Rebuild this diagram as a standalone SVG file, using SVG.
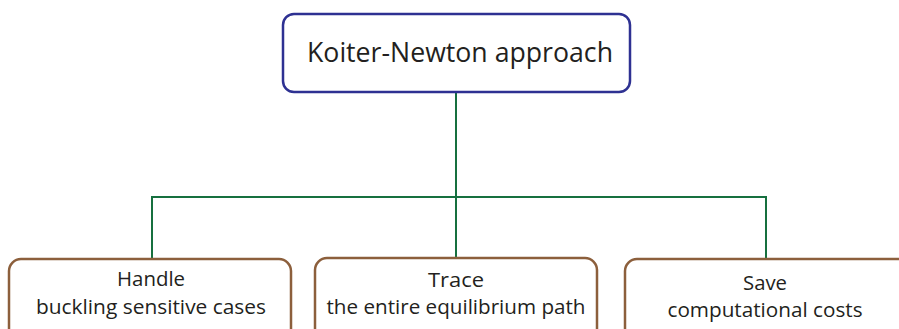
<svg xmlns="http://www.w3.org/2000/svg" width="899" height="329" viewBox="0 0 899 329">
<style>
.top{fill:#fff;stroke:#2e3192;stroke-width:2.5}
.leaf{fill:#fff;stroke:#8c5f3c;stroke-width:2.5}
.conn{fill:none;stroke:#16703f;stroke-width:2}
text{font-family:"Open Sans","Noto Sans",sans-serif;fill:#231f20;text-anchor:middle}
.t1{font-size:27px}
.t2{font-size:20px}
</style>
<rect width="899" height="329" fill="#fff"/>
<g id="connectors">
<path class="conn" d="M456 92 V197 M152 259 V197 H766 V259 M456 197 V258"/>
</g>
<g id="root">
<rect class="top" x="283" y="14" width="347" height="78" rx="11"/>
<text class="t1" x="460" y="62" textLength="306" lengthAdjust="spacingAndGlyphs">Koiter-Newton approach</text>
</g>
<g id="handle">
<rect class="leaf" x="9" y="259" width="282" height="90" rx="12"/>
<text class="t2" x="151" y="286" textLength="68" lengthAdjust="spacingAndGlyphs">Handle</text>
<text class="t2" x="151" y="314" textLength="230" lengthAdjust="spacingAndGlyphs">buckling sensitive cases</text>
</g>
<g id="trace">
<rect class="leaf" x="315" y="258" width="282" height="90" rx="12"/>
<text class="t2" x="456" y="287" textLength="56" lengthAdjust="spacingAndGlyphs">Trace</text>
<text class="t2" x="456" y="314" textLength="259" lengthAdjust="spacingAndGlyphs">the entire equilibrium path</text>
</g>
<g id="save">
<rect class="leaf" x="625" y="259" width="290" height="90" rx="12"/>
<text class="t2" x="765" y="290" textLength="44" lengthAdjust="spacingAndGlyphs">Save</text>
<text class="t2" x="765" y="317" textLength="195" lengthAdjust="spacingAndGlyphs">computational costs</text>
</g>
</svg>
